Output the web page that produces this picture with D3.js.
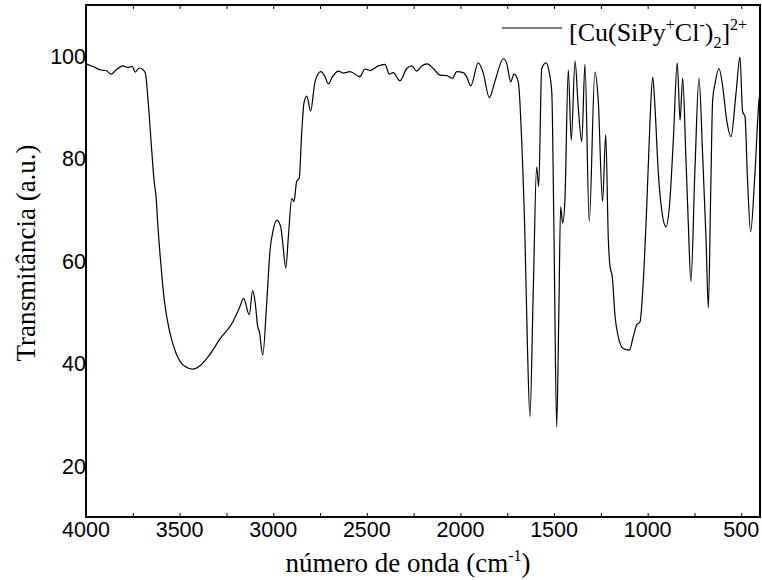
<!DOCTYPE html>
<html>
<head>
<meta charset="utf-8">
<script src="https://d3js.org/d3.v7.min.js"></script>
<style>
  body { margin: 0; background: #fff; }
</style>
</head>
<body>
<div id="chart"></div>
<script>
// FTIR spectrum of [Cu(SiPy+Cl-)2]2+

// Wavenumbers (cm-1)
var waveNumbers = [4000, 3964, 3920, 3893, 3866, 3840, 3804, 3777, 3754, 3737, 3715, 3697, 3683, 3670, 3653, 3635, 3626, 3617, 3599, 3582,
    3555, 3519, 3475, 3430, 3386, 3341, 3288, 3216, 3181, 3158, 3128, 3110, 3096, 3083, 3074, 3056, 3035, 3017, 3000, 2981,
    2960, 2949, 2933, 2919, 2901, 2889, 2875, 2861, 2848, 2836, 2821, 2800, 2777, 2746, 2723, 2706, 2682, 2652, 2626, 2590,
    2537, 2510, 2483, 2439, 2403, 2380, 2359, 2323, 2287, 2260, 2234, 2207, 2177, 2145, 2109, 2073, 2043, 2020, 1985, 1967,
    1945, 1905, 1878, 1846, 1815, 1771, 1753, 1731, 1714, 1691, 1673, 1655, 1643, 1629, 1611, 1593, 1582, 1566, 1543, 1525,
    1512, 1500, 1486, 1474, 1465, 1454, 1442, 1424, 1408, 1388, 1371, 1352, 1335, 1312, 1282, 1264, 1241, 1224, 1210, 1201,
    1189, 1174, 1157, 1130, 1098, 1077, 1059, 1041, 1023, 1005, 988, 973, 961, 943, 925, 902, 884, 863, 842, 827,
    813, 796, 783, 769, 747, 726, 706, 688, 676, 663, 653, 640, 619, 599, 578, 555, 528, 507, 493, 480,
    468, 450, 427, 404, 400];

// Transmittance (a.u.) at each wavenumber
var transmittance = [98.5, 98.0, 97.3, 97.2, 96.5, 97.3, 98.1, 97.8, 98.0, 96.9, 97.7, 97.4, 96.7, 92.1, 83.6, 75.2, 72.6, 67.4, 58.9, 52.4,
    46.5, 42.0, 39.5, 38.9, 39.7, 41.6, 44.6, 48.1, 50.8, 52.7, 49.5, 54.2, 51.8, 47.2, 46.2, 41.6, 51.7, 62.1, 66.1, 68.0,
    66.7, 63.5, 58.6, 64.8, 72.2, 71.6, 75.5, 76.2, 84.9, 90.8, 92.2, 89.3, 95.0, 97.0, 96.0, 94.6, 96.1, 97.1, 96.7, 97.0,
    96.0, 97.5, 97.2, 98.1, 98.4, 96.5, 96.8, 95.2, 97.6, 98.1, 97.1, 98.1, 98.5, 97.6, 96.3, 96.2, 95.7, 97.0, 96.8, 96.0,
    94.2, 98.7, 96.7, 91.9, 95.2, 99.5, 98.6, 95.0, 96.5, 95.0, 83.6, 64.1, 44.6, 29.6, 54.3, 78.4, 74.5, 97.6, 98.7, 96.7,
    92.8, 64.1, 27.6, 51.1, 70.6, 67.4, 71.9, 97.3, 83.6, 99.1, 90.1, 83.3, 98.4, 67.7, 96.9, 91.4, 71.6, 84.7, 64.1, 58.9,
    56.9, 49.1, 45.2, 42.9, 42.6, 45.2, 47.5, 48.1, 56.3, 70.6, 86.9, 95.9, 90.1, 77.1, 70.0, 66.7, 70.6, 83.6, 98.7, 87.5,
    95.7, 80.4, 67.4, 56.0, 78.4, 95.7, 80.4, 64.1, 50.8, 73.9, 91.4, 94.7, 97.6, 94.0, 87.5, 84.3, 92.8, 99.8, 89.2, 88.2,
    77.1, 65.7, 77.1, 91.8, 92.5];

// Axis ticks
var xTickValues = [4000, 3500, 3000, 2500, 2000, 1500, 1000, 500];
var yTickValues = [20, 40, 60, 80, 100];

// svg size and margins
var svgWidth = 762;
var svgHeight = 580;
var margin = {top: 5, right: 2, bottom: 63, left: 86};
var chartWidth = svgWidth - margin.left - margin.right;
var chartHeight = svgHeight - margin.top - margin.bottom;

var svg = d3.select("#chart").append("svg")
    .attr("width", svgWidth)
    .attr("height", svgHeight);

var chartGroup = svg.append("g")
    .attr("transform", `translate(${margin.left}, ${margin.top})`);

// Scales
var xScale = d3.scaleLinear()
    .domain([4000, 400])
    .range([0, chartWidth]);

var yScale = d3.scaleLinear()
    .domain([10, 110])
    .range([chartHeight, 0]);

// Build data rows
var spectrum = waveNumbers.map((w, i) => ({wn: w, t: transmittance[i]}));

// Clip the curve to the frame
svg.append("defs").append("clipPath")
    .attr("id", "plotClip")
    .append("rect")
    .attr("width", chartWidth)
    .attr("height", chartHeight);

var line = d3.line()
    .x(d => xScale(d.wn))
    .y(d => yScale(d.t))
    .curve(d3.curveMonotoneX);

chartGroup.append("path")
    .datum(spectrum)
    .attr("clip-path", "url(#plotClip)")
    .attr("d", line)
    .attr("fill", "none")
    .attr("stroke", "black")
    .attr("stroke-width", 1.2);

// Minor ticks every 250 cm-1, pointing inward, on bottom and top
var minorTicks = d3.range(4000, 399, -250);

var bottomAxis = chartGroup.append("g")
    .attr("transform", `translate(0, ${chartHeight})`)
    .call(d3.axisBottom(xScale).tickValues(minorTicks).tickSize(-4).tickFormat(""));

var topAxis = chartGroup.append("g")
    .call(d3.axisTop(xScale).tickValues(minorTicks).tickSize(-4).tickFormat(""));

[bottomAxis, topAxis].forEach(function(ax) {
    ax.select(".domain").remove();
    ax.selectAll("line").attr("stroke", "black").attr("stroke-width", 1);
});

// x tick labels
chartGroup.selectAll(".xlab")
    .data(xTickValues)
    .enter()
    .append("text")
    .attr("class", "xlab")
    .attr("x", d => xScale(d))
    .attr("y", chartHeight + 20)
    .attr("text-anchor", "middle")
    .attr("font-family", "Liberation Sans, Arial, sans-serif")
    .attr("font-size", "21.5px")
    .text(d => d);

// y tick labels (no tick marks)
chartGroup.selectAll(".ylab")
    .data(yTickValues)
    .enter()
    .append("text")
    .attr("class", "ylab")
    .attr("x", 0)
    .attr("y", d => yScale(d))
    .attr("dy", "0.36em")
    .attr("text-anchor", "end")
    .attr("font-family", "Liberation Sans, Arial, sans-serif")
    .attr("font-size", "21.5px")
    .text(d => d);

// Frame
chartGroup.append("rect")
    .attr("width", chartWidth)
    .attr("height", chartHeight)
    .attr("fill", "none")
    .attr("stroke", "black")
    .attr("stroke-width", 2);

// Axis titles
var serif = "Liberation Serif, Times New Roman, serif";

var xLabel = svg.append("text")
    .attr("x", 408)
    .attr("y", 572)
    .attr("text-anchor", "middle")
    .attr("font-family", serif)
    .attr("font-size", "27px");
xLabel.append("tspan").text("número de onda (cm");
xLabel.append("tspan").attr("dy", -11).attr("font-size", "16px").text("-1");
xLabel.append("tspan").attr("dy", 11).text(")");

svg.append("text")
    .attr("transform", "translate(35, 253) rotate(-90)")
    .attr("text-anchor", "middle")
    .attr("font-family", serif)
    .attr("font-size", "27px")
    .text("Transmitância (a.u.)");

// Legend
svg.append("line")
    .attr("x1", 502)
    .attr("x2", 562)
    .attr("y1", 28)
    .attr("y2", 28)
    .attr("stroke", "black")
    .attr("stroke-width", 1.2);

var legend = svg.append("text")
    .attr("x", 569)
    .attr("y", 41)
    .attr("font-family", serif)
    .attr("font-size", "26px");
legend.append("tspan").text("[Cu(SiPy");
legend.append("tspan").attr("dy", -11).attr("font-size", "16px").text("+");
legend.append("tspan").attr("dy", 11).text("Cl");
legend.append("tspan").attr("dy", -11).attr("font-size", "16px").text("-");
legend.append("tspan").attr("dy", 11).text(")");
legend.append("tspan").attr("dy", 7).attr("font-size", "16px").text("2");
legend.append("tspan").attr("dy", -7).text("]");
legend.append("tspan").attr("dy", -11).attr("font-size", "16px").text("2+");
</script>
</body>
</html>
